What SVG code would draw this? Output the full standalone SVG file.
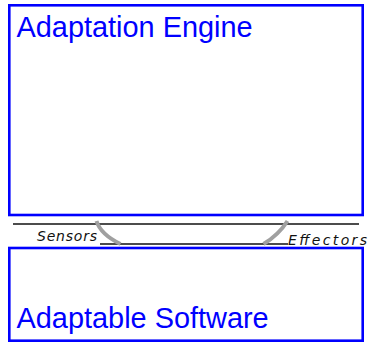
<svg xmlns="http://www.w3.org/2000/svg" width="372" height="342" viewBox="0 0 372 342">
  <style>
    .box { fill: #ffffff; stroke: #0000ff; stroke-width: 2.6; }
    .title { font-family: "Liberation Sans", Arial, sans-serif; font-size: 28.9px; fill: #0000ff; }
    .rule { stroke: #111111; stroke-width: 1.3; fill: none; }
    .probe { stroke: #a0a0a0; stroke-width: 4; fill: none; stroke-linecap: butt; }
    .hand { font-family: "DejaVu Sans", sans-serif; font-style: italic; font-size: 14px; fill: #111111; }
  </style>

  <!-- upper layer: the engine that drives adaptation -->
  <g id="adaptation-engine">
    <rect class="box" x="9.3" y="5.3" width="353.4" height="209.7"/>
    <text class="title" x="16.5" y="36.5">Adaptation Engine</text>
  </g>

  <!-- lower layer: the managed system -->
  <g id="adaptable-software">
    <rect class="box" x="9.3" y="248" width="353.4" height="92.7"/>
    <text class="title" x="16.5" y="328">Adaptable Software</text>
  </g>

  <!-- interface band between the two layers -->
  <g id="interface">
    <line class="rule" x1="13" y1="224" x2="359" y2="224"/>
    <line class="rule" x1="100" y1="244" x2="288" y2="244"/>
    <text class="hand" x="37" y="240.5" textLength="60" lengthAdjust="spacing">Sensors</text>
    <text class="hand" x="288" y="244.5" textLength="79" lengthAdjust="spacing">Effectors</text>
  </g>

  <!-- sensor and effector links -->
  <g id="connectors">
    <path id="sensors-link" class="probe" d="M96.5 221 C99 229 106 237 120.5 244"/>
    <path id="effectors-link" class="probe" d="M287.5 221 C283 228 277 236 263.5 244"/>
  </g>
</svg>
